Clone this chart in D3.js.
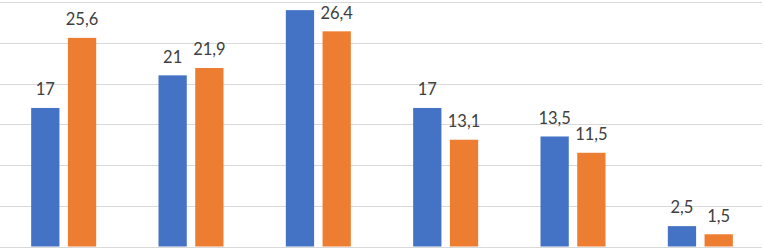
<!DOCTYPE html>
<html><head><meta charset="utf-8">
<script src="https://cdn.jsdelivr.net/npm/d3@7"></script>
<style>
html,body{margin:0;padding:0;background:#fff;}
svg{display:block;}
</style></head>
<body>
<svg id="chart" width="764" height="249"></svg>
<script>
const categories = ["1", "2", "3", "4", "5", "6"];
const seriesNames = ["Серия 1", "Серия 2"];
const series1 = [17, 21, 29, 17, 13.5, 2.5];
const series2 = [25.6, 21.9, 26.4, 13.1, 11.5, 1.5];
const yTicks = [0, 5, 10, 15, 20, 25, 30];
const colors = ["#4472C4", "#ED7D31"];

const W = 764, H = 249;
const svg = d3.select("#chart");
const y = d3.scaleLinear().domain([0, 30]).range([246.5, 2]);
const x0 = d3.scaleBand().domain(categories).range([0, W]).padding(0);
const groupW = 65;
const x1 = d3.scaleBand().domain(seriesNames).range([0, groupW]).paddingInner(0.23).paddingOuter(0);

// gridlines
const grid = svg.append("g")
  .call(d3.axisLeft(y).tickValues(yTicks).tickSize(-762).tickFormat(""));
grid.select(".domain").remove();
grid.selectAll("line").attr("stroke", "#d9d9d9").attr("stroke-width", 1)
  .attr("shape-rendering", "crispEdges");

const data = categories.map((c, i) => ({c, vals: [series1[i], series2[i]]}));
const fmt = v => String(v).replace(".", ",");

const g = svg.selectAll("g.grp").data(data).join("g").attr("class", "grp")
  .attr("transform", d => `translate(${x0(d.c) + (x0.bandwidth() - groupW) / 2},0)`);

g.selectAll("rect").data(d => d.vals.map((v, k) => ({v, k})))
  .join("rect")
  .attr("x", d => x1(seriesNames[d.k]))
  .attr("width", x1.bandwidth())
  .attr("y", d => y(d.v))
  .attr("height", d => y(0) - y(d.v))
  .attr("fill", d => colors[d.k]);

g.selectAll("text").data(d => d.vals.map((v, k) => ({v, k})).filter(d => y(d.v) - 12.7 > 14))
  .join("text")
  .attr("x", d => x1(seriesNames[d.k]) + x1.bandwidth() / 2)
  .attr("y", d => y(d.v) - 12.7)
  .attr("text-anchor", "middle")
  .attr("font-family", "Lato, 'Liberation Sans', sans-serif")
  .attr("font-size", 16.5)
  .attr("fill", "#404040")
  .text(d => fmt(d.v));
</script>
</body></html>
